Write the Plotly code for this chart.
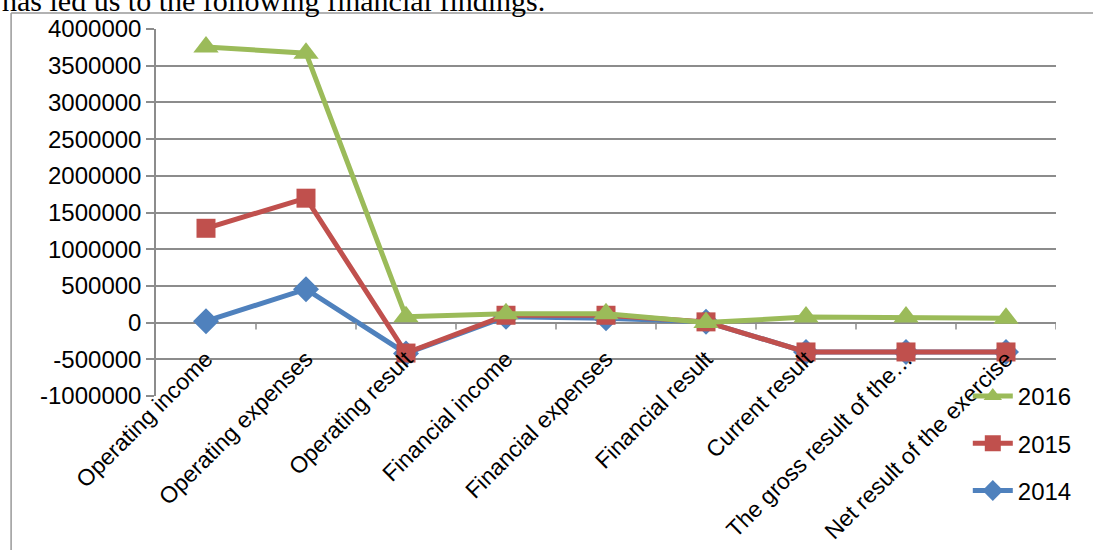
import plotly.graph_objects as go

categories = ["Operating income", "Operating expenses", "Operating result", "Financial income",
              "Financial expenses", "Financial result", "Current result",
              "The gross result of the…", "Net result of the exercise"]
v2014 = [20000, 455000, -420000, 80000, 60000, 10000, -400000, -400000, -400000]
v2015 = [1285000, 1695000, -415000, 100000, 100000, 10000, -400000, -400000, -400000]
v2016 = [3755000, 3670000, 80000, 120000, 120000, 0, 75000, 75000, 60000]
y_ticks = list(range(-1000000, 4000001, 500000))

GREEN = "#9BBB59"
RED = "#C0504D"
BLUE = "#4F81BD"
GRID = "#8C8C8C"

fig = go.Figure()
fig.add_trace(go.Scatter(x=categories, y=v2014, name="2014", mode="lines+markers", legendgroup="a",
                         legendrank=3,
                         line=dict(color=BLUE, width=5), marker=dict(symbol="diamond", size=20, color=BLUE)))
fig.add_trace(go.Scatter(x=categories, y=v2015, name="2015", mode="lines+markers", legendgroup="b",
                         legendrank=2,
                         line=dict(color=RED, width=5), marker=dict(symbol="square", size=19, color=RED)))
fig.add_trace(go.Scatter(x=categories, y=v2016, name="2016", mode="lines+markers", legendgroup="c",
                         legendrank=1,
                         line=dict(color=GREEN, width=5), marker=dict(symbol="triangle-up", size=22, color=GREEN)))

# category boundary tick marks on the zero line
shapes = []
for k in range(len(categories)):
    shapes.append(dict(type="line", xref="x", yref="y", ysizemode="pixel", yanchor=0,
                       x0=k + 0.5, x1=k + 0.5, y0=0, y1=-7, line=dict(color=GRID, width=1.5)))
# document frame lines
shapes.append(dict(type="line", xref="paper", yref="paper", x0=-0.161, x1=-0.161, y0=1.0436, y1=-0.45,
                   line=dict(color="#999999", width=1.5)))
shapes.append(dict(type="line", xref="paper", yref="paper", x0=-0.161, x1=1.1, y0=1.0436, y1=1.0436,
                   line=dict(color="#999999", width=1.5)))

fig.update_layout(
    width=1093, height=550,
    margin=dict(l=156, r=37, t=29, b=154),
    paper_bgcolor="white", plot_bgcolor="white",
    font=dict(family="Liberation Sans, Arial, sans-serif", color="black", size=23),
    showlegend=True,
    legend=dict(x=0.902, y=0.06, xanchor="left", yanchor="top", traceorder="grouped",
                bgcolor="rgba(0,0,0,0)", font=dict(size=24), tracegroupgap=13, itemwidth=40),
    shapes=shapes,
    annotations=[dict(text="has led us to the following financial findings.", xref="paper", yref="paper",
                      x=-0.173, y=1.027, xanchor="left", yanchor="bottom", showarrow=False,
                      font=dict(family="Liberation Serif, Times New Roman, serif", size=30, color="black"))],
)
fig.update_xaxes(type="category", range=[-0.5, len(categories) - 0.5], showgrid=False, showline=False,
                 ticks="", tickangle=-45, tickfont=dict(size=23), ticklabelstandoff=-56, automargin=False)
fig.update_yaxes(range=[-1000000, 4000000], tickvals=y_ticks, ticktext=[str(v) for v in y_ticks],
                 showgrid=True, gridcolor=GRID, gridwidth=1.5, zeroline=True, zerolinecolor=GRID,
                 zerolinewidth=1.5, showline=True, linecolor=GRID, linewidth=1.5, ticks="outside",
                 ticklen=8, tickcolor=GRID, tickwidth=1.5, tickfont=dict(size=24), automargin=False)

fig.write_html("out.html")
